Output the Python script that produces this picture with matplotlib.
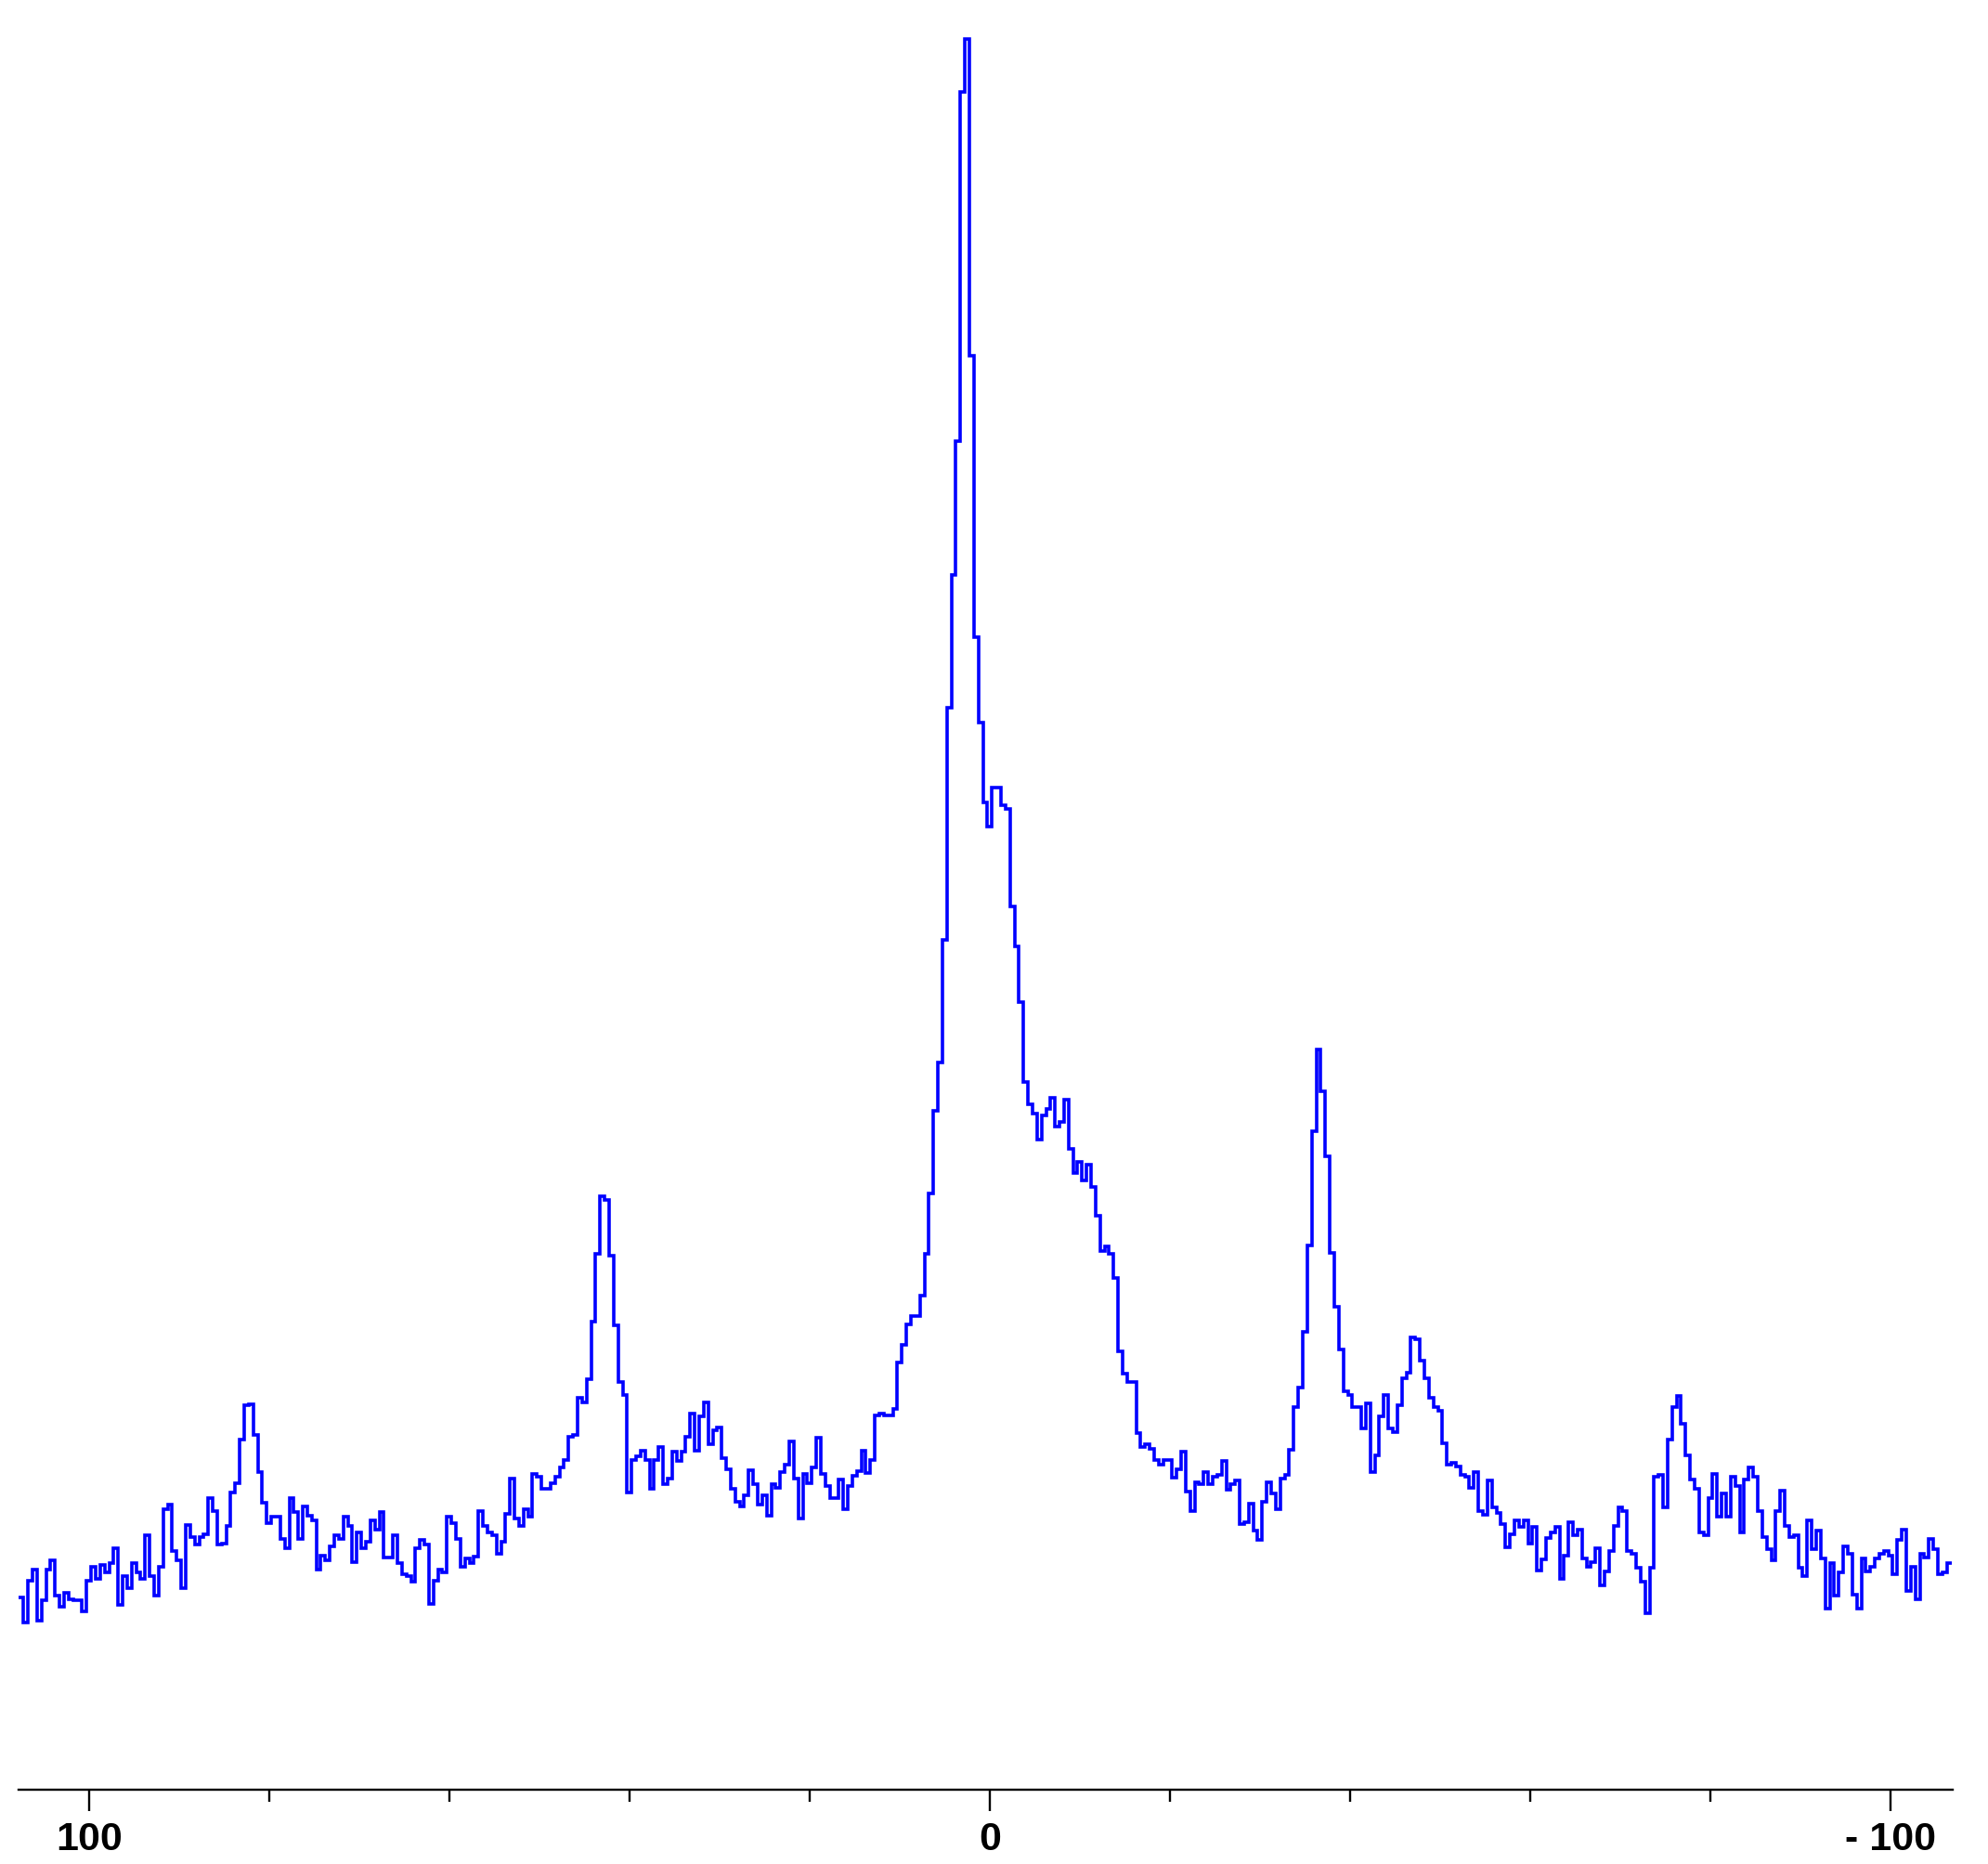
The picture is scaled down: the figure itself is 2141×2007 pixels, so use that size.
import numpy as np
import matplotlib
matplotlib.use("Agg")
import matplotlib.pyplot as plt

# Chemical-shift grid (ppm): first point and spacing of the spectrum
ppm_first = 107.5
ppm_spacing = -0.5

# Intensities, left (high ppm) to right (low ppm)
seg_a = [207, 180, 225, 237, 182, 204, 237, 247, 209, 197,
         212, 205, 204, 204, 192, 225, 240, 227, 242, 234,
         244, 260, 199, 230, 217, 244, 234, 227, 274, 230,
         209, 240, 302, 307, 257, 247, 217, 285, 272, 264,
         272, 275, 314, 300, 264, 265, 284, 320, 330, 377,
         414, 415, 382, 342, 309, 287, 294, 294, 270, 260,
         314, 299, 270, 305, 295, 290, 237, 252, 247, 262,
         274, 270, 294, 284, 245, 277, 260, 267, 290, 280,
         299, 250, 250, 274, 244, 232, 230, 224, 260, 269,
         264]
seg_b = [200, 225, 237, 234, 294, 287, 270, 240, 249, 244,
         251, 300, 284, 277, 274, 254, 267, 297, 335, 292,
         284, 302, 294, 340, 337, 324, 324, 330, 337, 347,
         355, 380, 382, 422, 417, 442, 504, 577, 639, 635,
         575, 500, 439, 425, 320, 355, 359, 365, 355, 324,
         355, 369, 329, 335, 364, 354, 364, 380, 405, 365,
         402, 417, 372, 387, 390, 357, 345, 324, 310, 305,
         317, 344, 329, 307, 317, 295, 329, 325, 342, 350,
         375, 335, 292, 340, 330, 347, 379, 340, 327, 314,
         314, 334, 302, 327]
seg_c = [338, 343, 365, 341, 355, 403, 405, 403, 403, 410,
         460, 479, 501, 510, 510, 532, 577, 642, 731, 783,
         915, 1165, 1308, 1452, 1828, 1885, 1544, 1241, 1149, 1063,
         1037, 1079, 1079, 1060, 1056, 951, 908, 848, 762, 738,
         728, 700, 726, 733, 745, 714, 719, 743, 690, 664,
         676, 656, 673, 649, 618, 580, 585, 577, 551, 472,
         448, 439, 439, 384, 369, 372, 367, 355, 350, 355,
         355, 336, 345, 364]
seg_d = [321, 300, 331, 329, 342, 329, 337, 339, 354, 323,
         329, 333, 286, 288, 308, 279, 269, 310, 331, 319,
         302, 335, 339, 366, 412, 433, 493, 586, 709, 797,
         752, 682, 578, 520, 474, 429, 425, 412, 412, 389,
         416, 342, 360, 402, 425, 389, 385, 414, 443, 449,
         487, 485, 462, 443, 422, 412, 408, 373, 350, 352,
         348, 339, 337, 325, 342, 300, 296, 333, 304, 298,
         286, 261, 275, 290, 283, 290, 265, 283, 236, 248,
         271, 277, 283, 227, 252, 288]
seg_e = [274, 280, 249, 240, 245, 260, 220, 235, 257, 284,
         304, 300, 257, 254, 239, 224, 190, 239, 337, 339,
         304, 377, 412, 424, 394, 360, 334, 324, 277, 274,
         314, 340, 294, 319, 294, 337, 327, 277, 334, 347,
         337, 300, 272, 259, 247, 300, 322, 284, 272, 274,
         239, 230, 290, 259, 279, 249, 195, 244, 209, 234,
         262, 254, 210, 195, 249, 235, 240, 249, 254, 257,
         252, 232, 269, 280, 214, 240, 205, 254, 250, 270,
         259, 232, 234, 244]

tick_major = [100, 0, -100]
tick_major_labels = ["100", "0", "- 100"]
tick_minor = [80, 60, 40, 20, -20, -40, -60, -80]

intensity = np.array(seg_a + seg_b + seg_c + seg_d + seg_e, dtype=float)
n = len(intensity)
centers = ppm_first + ppm_spacing * np.arange(n)
edges = np.concatenate([centers - ppm_spacing / 2, [centers[-1] + ppm_spacing / 2]])

W, H = 2141, 2007
fig = plt.figure(figsize=(W / 100, H / 100), dpi=100)
ax = fig.add_axes([20 / W, (H - 1927) / H, (2103 - 20) / W, 1927 / H])

ax.stairs(intensity, edges, baseline=None, color="#0000ff", linewidth=2.6)

ax.set_xlim(107.8, -106.9)
ax.set_ylim(0, 1927)

for s in ["top", "left", "right"]:
    ax.spines[s].set_visible(False)
ax.spines["bottom"].set_linewidth(1.7)
ax.spines["bottom"].set_color("black")

ax.set_yticks([])
ax.set_xticks(tick_major)
ax.set_xticklabels(tick_major_labels)
ax.set_xticks(tick_minor, minor=True)
ax.tick_params(axis="x", which="major", direction="out", length=16.5, width=1.7,
               pad=8, labelsize=31, colors="black")
ax.tick_params(axis="x", which="minor", direction="out", length=9.5, width=1.7)
for lab in ax.get_xticklabels():
    lab.set_fontfamily(["Liberation Sans", "DejaVu Sans"])
    lab.set_fontweight("bold")

fig.savefig("out.png", dpi=100, facecolor="white")
